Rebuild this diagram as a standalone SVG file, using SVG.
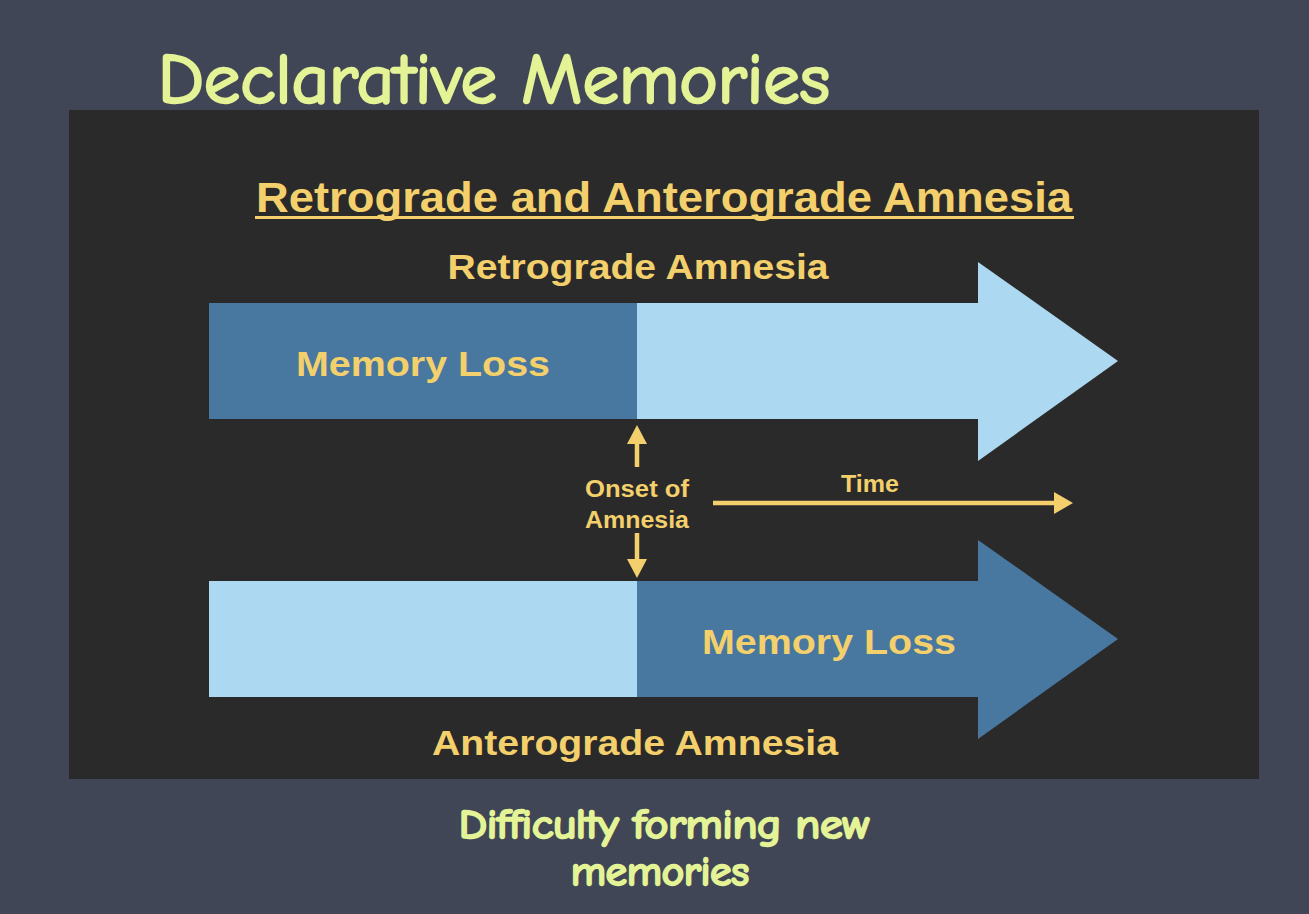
<svg xmlns="http://www.w3.org/2000/svg" width="1309" height="914" viewBox="0 0 1309 914">
<style>
.y{fill:#f3d06c;font-family:"Liberation Sans",Arial,sans-serif;font-weight:bold;text-anchor:middle}
.hw{fill:#e4f395;stroke:#e4f395;stroke-width:2.5;stroke-linejoin:round;font-family:"Comic Neue","DejaVu Sans",sans-serif;text-anchor:middle}
.dk{fill:#4878a0}.lt{fill:#acd9f1}
</style>
<rect width="1309" height="914" fill="#404656"/>
<rect x="69" y="110" width="1190" height="669" fill="#2a2a2a"/>
<text class="hw" x="494" y="103" font-size="70" textLength="672" lengthAdjust="spacingAndGlyphs">Declarative Memories</text>
<g id="title">
<text class="y" x="664" y="212" font-size="42" textLength="816" lengthAdjust="spacingAndGlyphs">Retrograde and Anterograde Amnesia</text>
<rect x="255" y="216" width="819" height="3" fill="#f3d06c"/>
</g>
<g id="retro">
<rect class="dk" x="209" y="303" width="429" height="116"/>
<path class="lt" d="M637,303 H978 V262 L1118,361 L978,461 V419 H637 Z"/>
<text class="y" x="638" y="279" font-size="35" textLength="381" lengthAdjust="spacingAndGlyphs">Retrograde Amnesia</text>
<text class="y" x="423" y="376" font-size="35" textLength="254" lengthAdjust="spacingAndGlyphs">Memory Loss</text>
</g>
<g id="antero">
<rect class="lt" x="209" y="581" width="429" height="116"/>
<path class="dk" d="M637,581 H978 V540 L1118,639 L978,739 V697 H637 Z"/>
<text class="y" x="829" y="654" font-size="35" textLength="254" lengthAdjust="spacingAndGlyphs">Memory Loss</text>
<text class="y" x="635" y="755" font-size="35" textLength="406" lengthAdjust="spacingAndGlyphs">Anterograde Amnesia</text>
</g>
<g id="onset">
<text class="y" x="637" y="497" font-size="24" textLength="104" lengthAdjust="spacingAndGlyphs">Onset of</text>
<text class="y" x="637" y="528" font-size="24" textLength="104" lengthAdjust="spacingAndGlyphs">Amnesia</text>
</g>
<g id="time">
<text class="y" x="870" y="492" font-size="24" textLength="58" lengthAdjust="spacingAndGlyphs">Time</text>
</g>
<g id="connectors" stroke="#f3d06c" stroke-width="4.5" fill="none">
<line x1="637" y1="467" x2="637" y2="443"/>
<path d="M627,444 L637,425 L647,444 Z" fill="#f3d06c" stroke="none"/>
<line x1="637" y1="533" x2="637" y2="561"/>
<path d="M627,559 L637,578 L647,559 Z" fill="#f3d06c" stroke="none"/>
<line x1="713" y1="503" x2="1056" y2="503"/>
<path d="M1054,492 L1073,503 L1054,514 Z" fill="#f3d06c" stroke="none"/>
</g>
<text class="hw" x="664" y="838" font-size="40" textLength="410" lengthAdjust="spacingAndGlyphs">Difficulty forming new</text>
<text class="hw" x="660" y="885" font-size="40" textLength="178" lengthAdjust="spacingAndGlyphs">memories</text>
</svg>
